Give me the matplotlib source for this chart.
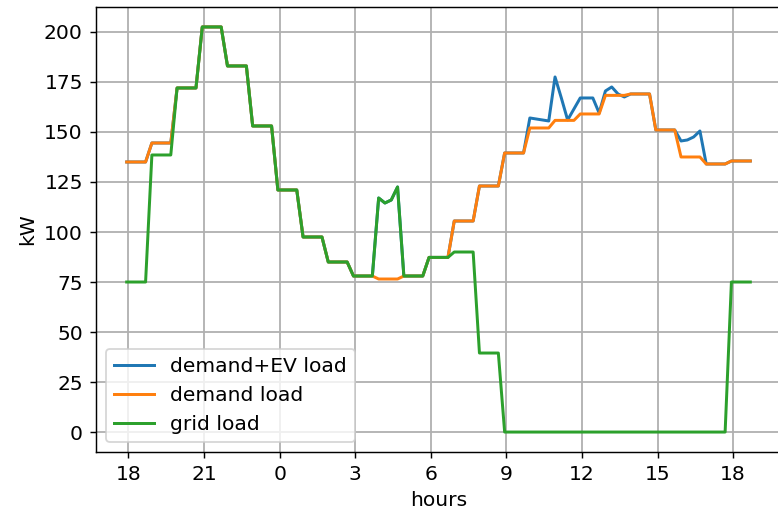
import matplotlib
matplotlib.use('Agg')
import matplotlib.pyplot as plt
import numpy as np

# 15-minute samples, one row per hour, starting at 18:00
demand_ev = [
    135, 135, 135, 135,
    144.5, 144.5, 144.5, 144.5,
    172, 172, 172, 172,
    202.5, 202.5, 202.5, 202.5,
    183, 183, 183, 183,
    153, 153, 153, 153,
    121, 121, 121, 121,
    97.5, 97.5, 97.5, 97.5,
    85, 85, 85, 85,
    78, 78, 78, 78,
    117, 114.5, 116, 122.5,
    78, 78, 78, 78,
    87.3, 87.3, 87.3, 87.3,
    105.5, 105.5, 105.5, 105.5,
    123, 123, 123, 123,
    139.5, 139.5, 139.5, 139.5,
    157, 156.5, 156, 155.5,
    177.5, 167, 156, 161.5,
    167, 167, 167, 159.5,
    170.5, 172.5, 169, 167.5,
    169, 169, 169, 169,
    151, 151, 151, 151,
    145.5, 146, 147.5, 150.5,
    134, 134, 134, 134,
    135.5, 135.5, 135.5, 135.5,
]

demand = [
    135, 135, 135, 135,
    144.5, 144.5, 144.5, 144.5,
    172, 172, 172, 172,
    202.5, 202.5, 202.5, 202.5,
    183, 183, 183, 183,
    153, 153, 153, 153,
    121, 121, 121, 121,
    97.5, 97.5, 97.5, 97.5,
    85, 85, 85, 85,
    78, 78, 78, 78,
    76.5, 76.5, 76.5, 76.5,
    78, 78, 78, 78,
    87.3, 87.3, 87.3, 87.3,
    105.5, 105.5, 105.5, 105.5,
    123, 123, 123, 123,
    139.5, 139.5, 139.5, 139.5,
    152, 152, 152, 152,
    155.8, 155.8, 155.8, 155.8,
    159, 159, 159, 159,
    168.3, 168.3, 168.3, 168.3,
    169, 169, 169, 169,
    151, 151, 151, 151,
    137.5, 137.5, 137.5, 137.5,
    134, 134, 134, 134,
    135.5, 135.5, 135.5, 135.5,
]

grid = [
    75, 75, 75, 75,
    138.5, 138.5, 138.5, 138.5,
    172, 172, 172, 172,
    202.5, 202.5, 202.5, 202.5,
    183, 183, 183, 183,
    153, 153, 153, 153,
    121, 121, 121, 121,
    97.5, 97.5, 97.5, 97.5,
    85, 85, 85, 85,
    78, 78, 78, 78,
    117, 114.5, 116, 122.5,
    78, 78, 78, 78,
    87.3, 87.3, 87.3, 87.3,
    90, 90, 90, 90,
    39.5, 39.5, 39.5, 39.5,
    0, 0, 0, 0,
    0, 0, 0, 0,
    0, 0, 0, 0,
    0, 0, 0, 0,
    0, 0, 0, 0,
    0, 0, 0, 0,
    0, 0, 0, 0,
    0, 0, 0, 0,
    0, 0, 0, 0,
    75, 75, 75, 75,
]

tick_hours = [0, 3, 6, 9, 12, 15, 18, 21, 24]
tick_labels = ['18', '21', '0', '3', '6', '9', '12', '15', '18']

plt.rcParams['font.size'] = 11.2
plt.rcParams['lines.linewidth'] = 1.65
plt.rcParams['grid.linewidth'] = 1.0

# time axis in hours since 18:00
t = -0.07 + 0.25 * np.arange(len(demand))

fig = plt.figure(figsize=(778 / 130, 517 / 130), dpi=130)
ax = fig.add_axes([95.5 / 778, 64.7 / 517, 686 / 778, 445.6 / 517])
ax.plot(t, demand_ev, label='demand+EV load')
ax.plot(t, demand, label='demand load')
ax.plot(t, grid, label='grid load')
ax.grid(True)
ax.set_xticks(tick_hours)
ax.set_xticklabels(tick_labels)
ax.set_xlabel('hours')
ax.set_ylabel('kW')
ax.legend(loc='lower left')
fig.savefig('out.png', dpi=130)
